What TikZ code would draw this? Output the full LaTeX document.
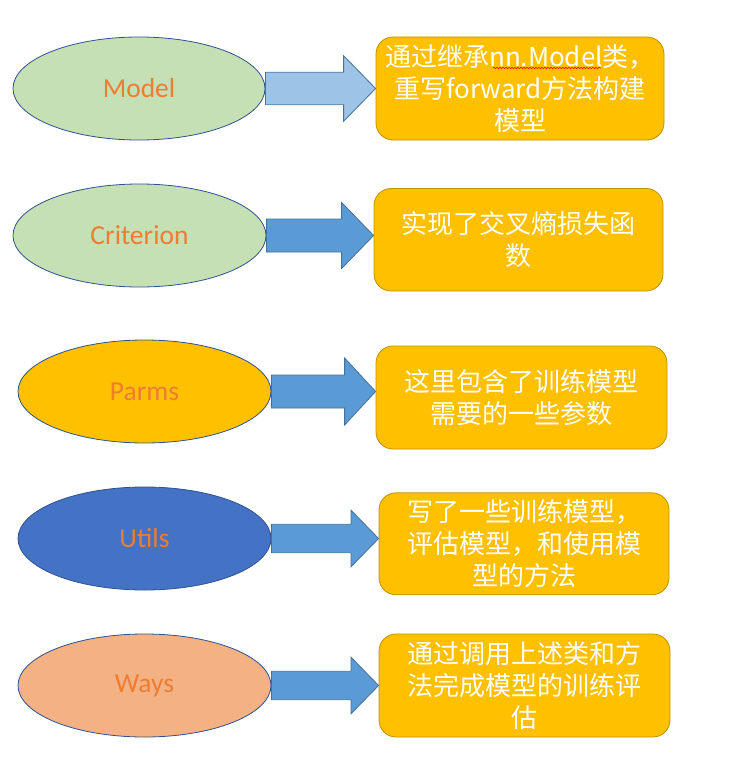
\documentclass[tikz,border=0pt]{standalone}
\usepackage{fontspec}
\setmainfont{Carlito}
\newfontfamily\cjk{Noto Sans CJK SC}
\usetikzlibrary{shapes.geometric,calc,decorations.pathmorphing}
\definecolor{ellborder}{HTML}{2F528F}
\definecolor{lgreen}{HTML}{C5E0B4}
\definecolor{gold}{HTML}{FFC000}
\definecolor{goldborder}{HTML}{BF9000}
\definecolor{utilblue}{HTML}{4472C4}
\definecolor{peach}{HTML}{F4B183}
\definecolor{orangetext}{HTML}{ED7D31}
\definecolor{lightarrow}{HTML}{9DC3E6}
\definecolor{arrowblue}{HTML}{5B9BD5}
\definecolor{arrowborder}{HTML}{41719C}
\tikzset{
  oval/.style={ellipse, draw=ellborder, line width=0.8pt, inner sep=0pt,
    text=orangetext, font=\fontsize{27.5}{31}\selectfont},
  infobox/.style={rectangle, rounded corners=17pt, draw=goldborder, line width=0.8pt,
    fill=gold, text=white, align=center, inner sep=0pt,
    font=\cjk\fontsize{26}{32}\selectfont}
}
\newcommand{\blockarrow}[6]{%
  \path let \p1=(#1.east), \p2=(#2.west) in
    [draw=arrowborder, line width=0.8pt, fill=#6]
    (\x1,\y1+#4) -- (\x2-#3,\y1+#4) -- (\x2-#3,\y1+#5) -- (\x2,\y1)
    -- (\x2-#3,\y1-#5) -- (\x2-#3,\y1-#4) -- (\x1,\y1-#4) -- cycle;}
\begin{document}
\begin{tikzpicture}[x=1pt,y=-1pt]
\useasboundingbox (0,0) rectangle (747,760);
% ellipses
\node[oval, fill=lgreen, minimum width=252pt, minimum height=103pt] (e1) at (139,88.5) {Model};
\node[oval, fill=lgreen, minimum width=253pt, minimum height=103pt] (e2) at (139.5,235.5) {Criterion};
\node[oval, fill=gold, minimum width=253pt, minimum height=103pt] (e3) at (144.5,391.5) {Parms};
\node[oval, fill=utilblue, minimum width=253pt, minimum height=103pt] (e4) at (144.5,538.5) {Utils};
\node[oval, fill=peach, minimum width=253pt, minimum height=103pt] (e5) at (144.5,685.5) {Ways};
% boxes
\node[infobox, minimum width=288pt, minimum height=103pt] (b1) at (520,88.5)
  {通过继承nn.Model类，\\重写forward方法构建\\模型};
\node[infobox, minimum width=289pt, minimum height=102.5pt] (b2) at (518.5,239.75)
  {实现了交叉熵损失函\\数};
\node[infobox, minimum width=291pt, minimum height=103pt] (b3) at (521.5,397.5)
  {这里包含了训练模型\\需要的一些参数};
\node[infobox, minimum width=290pt, minimum height=102pt] (b4) at (524,543.8)
  {写了一些训练模型，\\评估模型，和使用模\\型的方法};
\node[infobox, minimum width=291pt, minimum height=103pt] (b5) at (524.5,685.5)
  {通过调用上述类和方\\法完成模型的训练评\\估};
% spell-check squiggle
\coordinate (sq1) at (493,68);
\coordinate (sq2) at (601,68);
\draw[red, line width=0.6pt, decorate, decoration={snake, segment length=3pt, amplitude=0.8pt}] (sq1) -- (sq2);
% block arrows
\blockarrow{e1}{b1}{32pt}{16.2pt}{32.8pt}{lightarrow}
\blockarrow{e2}{b2}{32pt}{16.5pt}{33pt}{arrowblue}
\blockarrow{e3}{b3}{31pt}{16.5pt}{33.5pt}{arrowblue}
\blockarrow{e4}{b4}{27.6pt}{14.2pt}{28.3pt}{arrowblue}
\blockarrow{e5}{b5}{27.6pt}{14.2pt}{28.3pt}{arrowblue}
\end{tikzpicture}
\end{document}
